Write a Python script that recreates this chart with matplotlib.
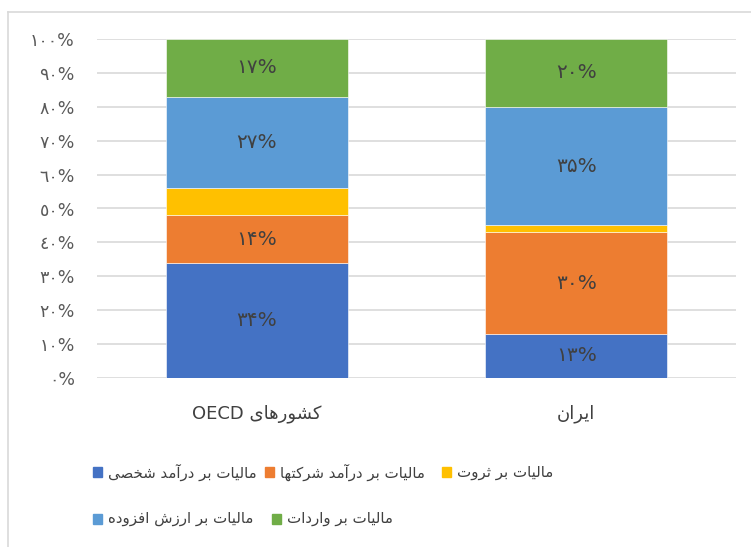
import re
import matplotlib
matplotlib.use("Agg")
import matplotlib.pyplot as plt
from matplotlib.patches import Rectangle
from matplotlib.lines import Line2D

plt.rcParams['font.family'] = ['DejaVu Sans']

# ---------------- data ----------------
categories = ["کشورهای OECD", "ایران"]
series_names = [
    "مالیات بر درآمد شخصی",
    "مالیات بر درآمد شرکتها",
    "مالیات بر ثروت",
    "مالیات بر ارزش افزوده",
    "مالیات بر واردات",
]
personal_income = [34, 13]
corporate_income = [14, 30]
wealth = [8, 2]
vat = [27, 35]
imports = [17, 20]
series_values = [personal_income, corporate_income, wealth, vat, imports]
show_label = [True, True, False, True, True]
y_ticks = [0, 10, 20, 30, 40, 50, 60, 70, 80, 90, 100]
colors = ["#4472C4", "#ED7D31", "#FFC000", "#5B9BD5", "#70AD47"]

# ---------------- minimal Arabic/Persian shaping ----------------
FORMS = {
    'ا': ('\uFE8D', '\uFE8E'),
    'آ': ('\uFE81', '\uFE82'),
    'د': ('\uFEA9', '\uFEAA'),
    'ر': ('\uFEAD', '\uFEAE'),
    'ز': ('\uFEAF', '\uFEB0'),
    'و': ('\uFEED', '\uFEEE'),
    'ب': ('\uFE8F', '\uFE90', '\uFE91', '\uFE92'),
    'ت': ('\uFE95', '\uFE96', '\uFE97', '\uFE98'),
    'ث': ('\uFE99', '\uFE9A', '\uFE9B', '\uFE9C'),
    'خ': ('\uFEA5', '\uFEA6', '\uFEA7', '\uFEA8'),
    'ش': ('\uFEB5', '\uFEB6', '\uFEB7', '\uFEB8'),
    'ص': ('\uFEB9', '\uFEBA', '\uFEBB', '\uFEBC'),
    'ف': ('\uFED1', '\uFED2', '\uFED3', '\uFED4'),
    'ل': ('\uFEDD', '\uFEDE', '\uFEDF', '\uFEE0'),
    'م': ('\uFEE1', '\uFEE2', '\uFEE3', '\uFEE4'),
    'ن': ('\uFEE5', '\uFEE6', '\uFEE7', '\uFEE8'),
    'ه': ('\uFEE9', '\uFEEA', '\uFEEB', '\uFEEC'),
    'ک': ('\uFB8E', '\uFB8F', '\uFB90', '\uFB91'),
    'ی': ('\uFBFC', '\uFBFD', '\uFBFE', '\uFBFF'),
}


def shape(s):
    out = []
    n = len(s)
    for i, ch in enumerate(s):
        if ch not in FORMS:
            out.append(ch)
            continue
        f = FORMS[ch]
        prev = s[i - 1] if i > 0 else None
        nxt = s[i + 1] if i + 1 < n else None
        con_prev = prev in FORMS and len(FORMS[prev]) == 4
        con_next = len(f) == 4 and nxt in FORMS
        if con_prev and con_next:
            out.append(f[3])
        elif con_prev:
            out.append(f[1])
        elif con_next:
            out.append(f[2])
        else:
            out.append(f[0])
    return ''.join(out)


def rtl(s):
    shaped = shape(s)
    runs = re.findall(r'[A-Za-z0-9]+|[^A-Za-z0-9]+', shaped)
    vis = []
    for r in reversed(runs):
        if re.fullmatch(r'[A-Za-z0-9]+', r):
            vis.append(r)
        else:
            vis.append(r[::-1])
    return ''.join(vis)


AR_DIGITS = str.maketrans('0123456789', '٠١٢٣٤٥٦٧٨٩')
FA_DIGITS = str.maketrans('0123456789', '۰۱۲۳۴۵۶۷۸۹')

# ---------------- figure ----------------
W, H = 751, 547
fig = plt.figure(figsize=(W / 100, H / 100), dpi=100)
ax = fig.add_axes([97 / W, (H - 378) / H, (736 - 97) / W, (378 - 39) / H])

x = list(range(len(categories)))
bottom = [0] * len(categories)
for name, vals, col, lab in zip(series_names, series_values, colors, show_label):
    bars = ax.bar(x, vals, bottom=bottom, width=0.57, color=col,
                  edgecolor='white', linewidth=0.4, zorder=3)
    if lab:
        for b, v in zip(bars, vals):
            ax.text(b.get_x() + b.get_width() / 2, b.get_y() + b.get_height() / 2,
                    str(v).translate(FA_DIGITS) + '%', ha='center', va='center',
                    fontsize=14.5, color='#404040', zorder=4)
    bottom = [b + v for b, v in zip(bottom, vals)]

ax.set_xlim(-0.5, 1.5)
ax.set_ylim(0, 100)
ax.set_yticks(y_ticks)
ax.set_yticklabels([str(t).translate(AR_DIGITS) + '%' for t in y_ticks],
                   fontsize=12.5, color='#595959')
ax.set_xticks(x)
ax.set_xticklabels([rtl(c) for c in categories], fontsize=13, color='#404040')
ax.tick_params(axis='y', length=0, pad=16)
ax.tick_params(axis='x', length=0, pad=19)
ax.grid(axis='y', color='#D9D9D9', linewidth=1.2, zorder=0)
for sp in ax.spines.values():
    sp.set_visible(False)

# ---------------- legend (manual, LTR order, two rows) ----------------
legend_xy = [(93, 472), (265, 472), (442, 472), (93, 519), (272, 519)]
for (px, py), name, col in zip(legend_xy, series_names, colors):
    fig.patches.append(Rectangle((px / W, (H - py - 5) / H), 9 / W, 10 / H,
                                 transform=fig.transFigure, color=col))
    fig.text((px + 15) / W, (H - py) / H, rtl(name), fontsize=10.8,
             color='#404040', ha='left', va='center')

# chart border
fig.add_artist(Line2D([8 / W, 1], [(H - 12) / H, (H - 12) / H],
                      transform=fig.transFigure, color='#D9D9D9', linewidth=1.2))
fig.add_artist(Line2D([8 / W, 8 / W], [0, (H - 12) / H],
                      transform=fig.transFigure, color='#D9D9D9', linewidth=1.2))

fig.savefig('out.png', dpi=100)
